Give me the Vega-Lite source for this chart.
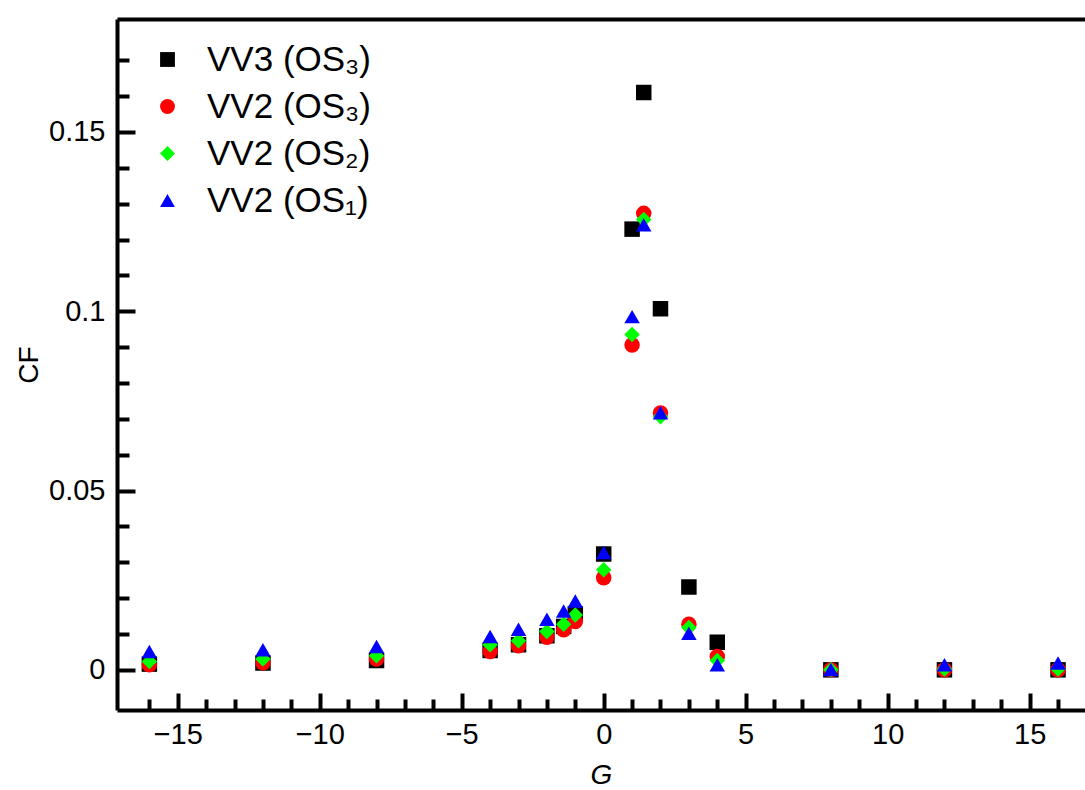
{
  "$schema": "https://vega.github.io/schema/vega-lite/v6.json",
  "width": 968,
  "height": 691,
  "autosize": "none",
  "padding": {"left": 117, "top": 19, "right": 0, "bottom": 80},
  "background": "white",
  "config": {"view": {"stroke": null}, "font": "Liberation Sans"},
  "data": {"values": [
    {"series": "VV3 (OS₃)", "G": -16, "CF": 0.0016},
    {"series": "VV3 (OS₃)", "G": -12, "CF": 0.0019},
    {"series": "VV3 (OS₃)", "G": -8, "CF": 0.0026},
    {"series": "VV3 (OS₃)", "G": -4, "CF": 0.0054},
    {"series": "VV3 (OS₃)", "G": -3, "CF": 0.0070},
    {"series": "VV3 (OS₃)", "G": -2, "CF": 0.0095},
    {"series": "VV3 (OS₃)", "G": -1.41, "CF": 0.0121},
    {"series": "VV3 (OS₃)", "G": -1, "CF": 0.0156},
    {"series": "VV3 (OS₃)", "G": 0, "CF": 0.0323},
    {"series": "VV3 (OS₃)", "G": 1, "CF": 0.1229},
    {"series": "VV3 (OS₃)", "G": 1.41, "CF": 0.1610},
    {"series": "VV3 (OS₃)", "G": 2, "CF": 0.1007},
    {"series": "VV3 (OS₃)", "G": 3, "CF": 0.0231},
    {"series": "VV3 (OS₃)", "G": 4, "CF": 0.0077},
    {"series": "VV3 (OS₃)", "G": 8, "CF": 0.0},
    {"series": "VV3 (OS₃)", "G": 12, "CF": 0.0},
    {"series": "VV3 (OS₃)", "G": 16, "CF": 0.0},
    {"series": "VV2 (OS₃)", "G": -16, "CF": 0.0014},
    {"series": "VV2 (OS₃)", "G": -12, "CF": 0.0020},
    {"series": "VV2 (OS₃)", "G": -8, "CF": 0.0030},
    {"series": "VV2 (OS₃)", "G": -4, "CF": 0.0051},
    {"series": "VV2 (OS₃)", "G": -3, "CF": 0.0067},
    {"series": "VV2 (OS₃)", "G": -2, "CF": 0.0091},
    {"series": "VV2 (OS₃)", "G": -1.41, "CF": 0.0112},
    {"series": "VV2 (OS₃)", "G": -1, "CF": 0.0135},
    {"series": "VV2 (OS₃)", "G": 0, "CF": 0.0257},
    {"series": "VV2 (OS₃)", "G": 1, "CF": 0.0906},
    {"series": "VV2 (OS₃)", "G": 1.41, "CF": 0.1273},
    {"series": "VV2 (OS₃)", "G": 2, "CF": 0.0716},
    {"series": "VV2 (OS₃)", "G": 3, "CF": 0.0127},
    {"series": "VV2 (OS₃)", "G": 4, "CF": 0.0037},
    {"series": "VV2 (OS₃)", "G": 8, "CF": 0.0},
    {"series": "VV2 (OS₃)", "G": 12, "CF": 0.0},
    {"series": "VV2 (OS₃)", "G": 16, "CF": 0.0},
    {"series": "VV2 (OS₂)", "G": -16, "CF": 0.0023},
    {"series": "VV2 (OS₂)", "G": -12, "CF": 0.0030},
    {"series": "VV2 (OS₂)", "G": -8, "CF": 0.0039},
    {"series": "VV2 (OS₂)", "G": -4, "CF": 0.0070},
    {"series": "VV2 (OS₂)", "G": -3, "CF": 0.0081},
    {"series": "VV2 (OS₂)", "G": -2, "CF": 0.0107},
    {"series": "VV2 (OS₂)", "G": -1.41, "CF": 0.0127},
    {"series": "VV2 (OS₂)", "G": -1, "CF": 0.0153},
    {"series": "VV2 (OS₂)", "G": 0, "CF": 0.0279},
    {"series": "VV2 (OS₂)", "G": 1, "CF": 0.0935},
    {"series": "VV2 (OS₂)", "G": 1.41, "CF": 0.1256},
    {"series": "VV2 (OS₂)", "G": 2, "CF": 0.0706},
    {"series": "VV2 (OS₂)", "G": 3, "CF": 0.0118},
    {"series": "VV2 (OS₂)", "G": 4, "CF": 0.0026},
    {"series": "VV2 (OS₂)", "G": 8, "CF": 0.0},
    {"series": "VV2 (OS₂)", "G": 12, "CF": 0.0002},
    {"series": "VV2 (OS₂)", "G": 16, "CF": 0.0002},
    {"series": "VV2 (OS₁)", "G": -16, "CF": 0.0051},
    {"series": "VV2 (OS₁)", "G": -12, "CF": 0.0056},
    {"series": "VV2 (OS₁)", "G": -8, "CF": 0.0065},
    {"series": "VV2 (OS₁)", "G": -4, "CF": 0.0093},
    {"series": "VV2 (OS₁)", "G": -3, "CF": 0.0113},
    {"series": "VV2 (OS₁)", "G": -2, "CF": 0.0141},
    {"series": "VV2 (OS₁)", "G": -1.41, "CF": 0.0164},
    {"series": "VV2 (OS₁)", "G": -1, "CF": 0.0192},
    {"series": "VV2 (OS₁)", "G": 0, "CF": 0.0327},
    {"series": "VV2 (OS₁)", "G": 1, "CF": 0.0985},
    {"series": "VV2 (OS₁)", "G": 1.41, "CF": 0.1241},
    {"series": "VV2 (OS₁)", "G": 2, "CF": 0.0717},
    {"series": "VV2 (OS₁)", "G": 3, "CF": 0.0102},
    {"series": "VV2 (OS₁)", "G": 4, "CF": 0.0014},
    {"series": "VV2 (OS₁)", "G": 8, "CF": 0.0001},
    {"series": "VV2 (OS₁)", "G": 12, "CF": 0.0014},
    {"series": "VV2 (OS₁)", "G": 16, "CF": 0.0019}
  ]},
  "layer": [
    {
      "mark": {"type": "point", "filled": true, "size": 240, "opacity": 1},
      "encoding": {
        "x": {
          "field": "G", "type": "quantitative",
          "scale": {"domain": [-17.14, 16.95], "nice": false, "zero": false},
          "axis": {
            "orient": "bottom",
            "values": [-16,-15,-14,-13,-12,-11,-10,-9,-8,-7,-6,-5,-4,-3,-2,-1,0,1,2,3,4,5,6,7,8,9,10,11,12,13,14,15,16],
            "labelExpr": "datum.value % 5 === 0 ? datum.label : ''",
            "tickSize": {"condition": {"test": "datum.value % 5 === 0", "value": -17}, "value": -11},
            "tickWidth": 4, "tickColor": "black",
            "domainWidth": 4, "domainColor": "black",
            "labelFontSize": 29, "labelColor": "black", "labelPadding": 27,
            "labelFlush": false, "labelOverlap": false, "grid": false,
            "title": "G", "titleFontStyle": "italic", "titleFontSize": 28,
            "titleFontWeight": "normal", "titleColor": "black", "titlePadding": 6
          }
        },
        "y": {
          "field": "CF", "type": "quantitative",
          "scale": {"domain": [-0.0112, 0.1815], "nice": false, "zero": false},
          "axis": {
            "values": [0,0.01,0.02,0.03,0.04,0.05,0.06,0.07,0.08,0.09,0.1,0.11,0.12,0.13,0.14,0.15,0.16,0.17],
            "labelExpr": "round(datum.value*100) % 5 === 0 ? format(datum.value, '~g') : ''",
            "tickSize": {"condition": {"test": "round(datum.value*100) % 5 === 0", "value": -18}, "value": -12},
            "tickWidth": 4, "tickColor": "black",
            "domainWidth": 4, "domainColor": "black",
            "labelFontSize": 29, "labelColor": "black", "labelPadding": 30,
            "labelFlush": false, "labelOverlap": false, "grid": false,
            "title": "CF", "titleFontSize": 28, "titleFontWeight": "normal",
            "titleColor": "black", "titlePadding": 5
          }
        },
        "shape": {
          "field": "series", "type": "nominal",
          "scale": {"domain": ["VV3 (OS₃)", "VV2 (OS₃)", "VV2 (OS₂)", "VV2 (OS₁)"], "range": ["square", "circle", "diamond", "triangle-up"]},
          "legend": {
            "orient": "none", "legendX": 33, "legendY": 23, "title": null,
            "labelFontSize": 35, "labelColor": "black", "labelLimit": 400,
            "symbolSize": 220, "labelOffset": 22, "rowPadding": 11, "padding": 0
          }
        },
        "color": {
          "field": "series", "type": "nominal",
          "scale": {"domain": ["VV3 (OS₃)", "VV2 (OS₃)", "VV2 (OS₂)", "VV2 (OS₁)"], "range": ["#000000", "#ff0000", "#00ff00", "#0000ff"]},
          "legend": {
            "orient": "none", "legendX": 33, "legendY": 23, "title": null,
            "labelFontSize": 35, "labelColor": "black", "labelLimit": 400,
            "symbolSize": 220, "labelOffset": 22, "rowPadding": 11, "padding": 0
          }
        }
      }
    },
    {
      "mark": {"type": "point", "opacity": 0},
      "encoding": {
        "x": {
          "field": "G", "type": "quantitative",
          "scale": {"domain": [-17.14, 16.95], "nice": false, "zero": false},
          "axis": {
            "orient": "top", "labels": false, "ticks": false, "grid": false,
            "title": null, "domainWidth": 4, "domainColor": "black"
          }
        }
      }
    }
  ],
  "resolve": {"axis": {"x": "independent"}}
}
